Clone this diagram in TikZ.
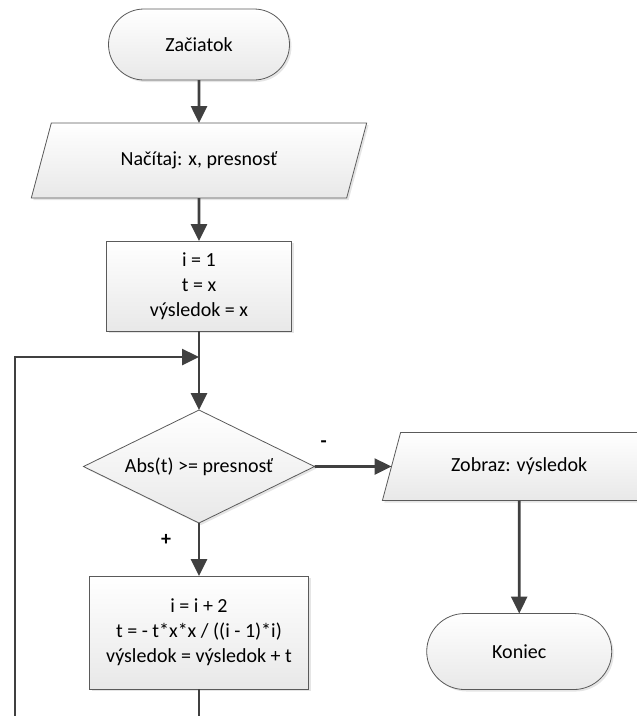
\documentclass[tikz,border=0pt]{standalone}
\usepackage{fontspec}
\setmainfont{Carlito}
\usetikzlibrary{shapes.geometric,shapes.misc,arrows.meta,positioning,shadows}

\definecolor{linegray}{HTML}{404040}
\definecolor{edgegray}{HTML}{5A5A5A}

\tikzset{
  flowshape/.style={draw=edgegray, line width=0.8pt, top color=white, bottom color=black!9,
    drop shadow={shadow xshift=2pt, shadow yshift=-2pt, opacity=0.25, fill=black!40},
    align=center, font=\fontsize{20}{25}\selectfont, inner sep=2pt, outer sep=0pt},
  terminal/.style={flowshape, rounded rectangle, minimum width=185pt, minimum height=71pt},
  iobox/.style={flowshape, trapezium, trapezium left angle=63, trapezium right angle=117,
    trapezium stretches=true},
  procbox/.style={flowshape, rectangle, minimum width=185pt, minimum height=90pt},
  decision/.style={flowshape, diamond, aspect=2, minimum width=231pt, minimum height=113pt,
    inner sep=0pt},
  flowarrow/.style={-{Triangle[length=17pt,width=16pt]}, draw=linegray, line width=2.6pt},
  flowline/.style={draw=linegray, line width=2.6pt},
  branchlabel/.style={font=\fontsize{20}{24}\selectfont\bfseries},
}

\begin{document}
\begin{tikzpicture}[x=1pt, y=1pt, node distance=43pt]
  \useasboundingbox (0,0) rectangle (637,-716);
  \clip (0,0) rectangle (637,-716);

  % Main column
  \node[terminal] (start) at (199,-44.5) {Začiatok};
  \node[iobox, below=of start, minimum width=336pt, minimum height=75pt] (read) {Načítaj: x, presnosť};
  \node[procbox, below=of read] (init) {i = 1\\t = x\\výsledok = x};
  \coordinate[below=26pt of init] (join);
  \node[decision, below=79pt of init] (cond) {Abs(t) >= presnosť};
  \node[procbox, below=53pt of cond, minimum width=219pt, minimum height=113pt] (body)
    {i = i + 2\\t = - t*x*x / ((i - 1)*i)\\výsledok = výsledok + t};

  % Output branch
  \node[iobox, right=77pt of cond, minimum width=274pt, minimum height=68pt] (show) {Zobraz: výsledok};
  \node[terminal, below=113pt of show, minimum width=189pt, minimum height=76pt] (stop) {Koniec};

  % Loop back (runs below the page edge)
  \coordinate[below=40pt of body] (loopdown);
  \coordinate[left=184pt of loopdown] (loopcorner);

  % Arrows
  \draw[flowarrow] (start) -- (read);
  \draw[flowarrow] (read) -- (init);
  \draw[flowarrow] (init) -- (cond);
  \draw[flowarrow] (cond) -- node[branchlabel, pos=0.12, yshift=22pt] {-} (show);
  \draw[flowarrow] (cond) -- node[branchlabel, pos=0.32, xshift=-33pt] {+} (body);
  \draw[flowarrow] (show) -- (stop);
  \draw[flowarrow] (body) -- (loopdown) -- (loopcorner) |- (join);
\end{tikzpicture}
\end{document}
